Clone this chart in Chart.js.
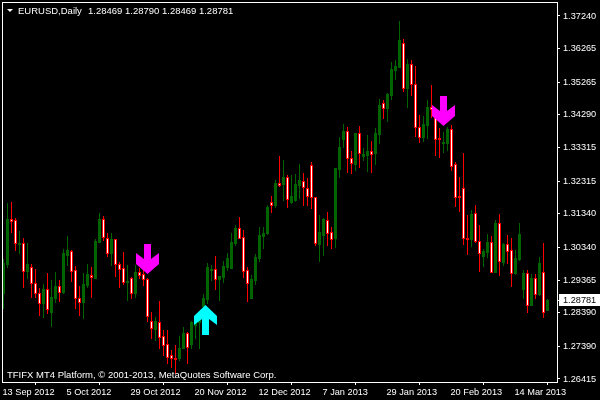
<!DOCTYPE html>
<html>
<head>
<meta charset="utf-8">
<style>html,body{margin:0;padding:0;background:#000}canvas{display:block}</style>
<script src="https://cdn.jsdelivr.net/npm/chart.js@4"></script>
</head>
<body>
<canvas id="c" width="600" height="400"></canvas>
<script>
const symbolLabel = "EURUSD,Daily";
const footerText = "TFIFX MT4 Platform, \u00A9 2001-2013, MetaQuotes Software Corp.";
const dateTickIndex = [0,16,32,48,64,80,96,112,128];
const dateTickLabels = ["13 Sep 2012","5 Oct 2012","29 Oct 2012","20 Nov 2012","12 Dec 2012","7 Jan 2013","29 Jan 2013","20 Feb 2013","14 Mar 2013"];
const priceTicks = [1.37240,1.36265,1.35265,1.34290,1.33315,1.32315,1.31340,1.30340,1.29365,1.28390,1.27390,1.26415];
const opens = [1.2898,1.2985,1.3119,1.3116,1.3044,1.3047,1.2964,1.2976,1.2928,1.2898,
1.2868,1.2910,1.2842,1.2883,1.2919,1.2901,1.3012,1.3024,1.2967,1.2883,
1.2871,1.2922,1.2952,1.2943,1.3050,1.3119,1.3062,1.3018,1.3059,1.2985,
1.2973,1.2931,1.2943,1.2898,1.2961,1.2955,1.2940,1.2815,1.2791,1.2812,
1.2770,1.2746,1.2713,1.2704,1.2704,1.2734,1.2779,1.2746,1.2803,1.2812,
1.2860,1.2880,1.2967,1.2970,1.2940,1.2946,1.2976,1.2973,1.3047,1.3092,
1.3065,1.2967,1.2883,1.2937,1.3003,1.3068,1.3077,1.3170,1.3161,1.3226,
1.3223,1.3244,1.3170,1.3176,1.3220,1.3232,1.3211,1.3280,1.3185,1.3044,
1.3071,1.3116,1.3080,1.3062,1.3268,1.3358,1.3381,1.3301,1.3283,1.3375,
1.3307,1.3310,1.3322,1.3316,1.3372,1.3465,1.3450,1.3489,1.3563,1.3572,
1.3644,1.3510,1.3581,1.3522,1.3393,1.3363,1.3399,1.3453,1.3444,1.3360,
1.3346,1.3346,1.3387,1.3283,1.3188,1.3211,1.3062,1.3059,1.3137,1.3053,
1.3009,1.3021,1.3050,1.2961,1.3107,1.2991,1.3044,1.3027,1.2958,1.3000,
1.2910,1.2958,1.2862,1.2943,1.2895,1.2961,1.28469];
const highs = [1.3000,1.3167,1.3170,1.3122,1.3083,1.3062,1.3047,1.2985,1.2970,1.2913,
1.2925,1.2958,1.2937,1.2961,1.2937,1.3029,1.3068,1.3027,1.2979,1.2919,
1.2958,1.2985,1.2976,1.3059,1.3137,1.3128,1.3077,1.3077,1.3059,1.2991,
1.3021,1.2982,1.2946,1.2982,1.2973,1.2967,1.2943,1.2842,1.2827,1.2874,
1.2788,1.2788,1.2728,1.2743,1.2770,1.2797,1.2782,1.2815,1.2830,1.2845,
1.2895,1.2988,1.2982,1.3009,1.2949,1.2994,1.3018,1.3077,1.3101,1.3125,
1.3086,1.2976,1.2952,1.3015,1.3095,1.3095,1.3161,1.3188,1.3235,1.3307,
1.3295,1.3250,1.3250,1.3253,1.3283,1.3256,1.3241,1.3289,1.3185,1.3131,
1.3122,1.3140,1.3095,1.3271,1.3363,1.3402,1.3393,1.3322,1.3375,1.3396,
1.3331,1.3369,1.3352,1.3390,1.3477,1.3474,1.3495,1.3587,1.3593,1.3709,
1.3656,1.3596,1.3593,1.3575,1.3429,1.3426,1.3474,1.3519,1.3447,1.3390,
1.3378,1.3393,1.3399,1.3289,1.3244,1.3316,1.3131,1.3146,1.3161,1.3101,
1.3029,1.3074,1.3068,1.3116,1.3134,1.3047,1.3071,1.3062,1.3027,1.3107,
1.2967,1.2967,1.2955,1.2955,1.3006,1.3047,1.28790];
const lows = [1.2854,1.2976,1.3080,1.3027,1.3018,1.2916,1.2943,1.2886,1.2886,1.2833,
1.2827,1.2839,1.2800,1.2871,1.2874,1.2898,1.2982,1.2934,1.2854,1.2833,
1.2824,1.2916,1.2886,1.2943,1.3050,1.3056,1.3009,1.2982,1.2949,1.2916,
1.2925,1.2877,1.2883,1.2886,1.2943,1.2922,1.2815,1.2764,1.2758,1.2734,
1.2713,1.2690,1.2678,1.2660,1.2698,1.2734,1.2690,1.2734,1.2764,1.2734,
1.2839,1.2868,1.2937,1.2910,1.2877,1.2931,1.2967,1.2973,1.3041,1.3062,
1.2946,1.2874,1.2883,1.2925,1.2994,1.3032,1.3074,1.3140,1.3155,1.3217,
1.3176,1.3155,1.3167,1.3173,1.3182,1.3161,1.3161,1.3152,1.3041,1.2994,
1.3012,1.3041,1.3032,1.3035,1.3244,1.3334,1.3259,1.3256,1.3265,1.3274,
1.3295,1.3262,1.3259,1.3283,1.3346,1.3420,1.3411,1.3477,1.3536,1.3572,
1.3501,1.3453,1.3489,1.3366,1.3349,1.3352,1.3360,1.3423,1.3310,1.3304,
1.3319,1.3325,1.3265,1.3158,1.3143,1.3044,1.3015,1.3038,1.3050,1.2964,
1.2979,1.3006,1.2961,1.2961,1.2952,1.2982,1.2988,1.2919,1.2955,1.2997,
1.2883,1.2842,1.2862,1.2883,1.2892,1.2827,1.28469];
const closes = [1.2988,1.3119,1.3113,1.3047,1.3047,1.2964,1.2985,1.2928,1.2898,1.2868,
1.2910,1.2851,1.2886,1.2919,1.2901,1.3018,1.3027,1.2964,1.2883,1.2871,
1.2925,1.2955,1.2946,1.3053,1.3119,1.3065,1.3018,1.3059,1.2985,1.2970,
1.2931,1.2934,1.2898,1.2961,1.2952,1.2940,1.2830,1.2794,1.2815,1.2767,
1.2743,1.2707,1.2704,1.2701,1.2734,1.2779,1.2737,1.2812,1.2821,1.2839,
1.2883,1.2976,1.2970,1.2940,1.2949,1.2979,1.3003,1.3050,1.3092,1.3062,
1.2964,1.2928,1.2940,1.3006,1.3071,1.3077,1.3155,1.3161,1.3226,1.3220,
1.3244,1.3179,1.3188,1.3223,1.3235,1.3214,1.3188,1.3185,1.3047,1.3080,
1.3119,1.3077,1.3059,1.3271,1.3334,1.3381,1.3301,1.3286,1.3375,1.3316,
1.3313,1.3322,1.3313,1.3375,1.3459,1.3450,1.3492,1.3566,1.3575,1.3653,
1.3510,1.3581,1.3522,1.3393,1.3363,1.3402,1.3453,1.3447,1.3358,1.3358,
1.3349,1.3387,1.3277,1.3185,1.3185,1.3062,1.3059,1.3134,1.3053,1.3018,
1.3024,1.3050,1.2961,1.3107,1.2994,1.3044,1.3024,1.2958,1.3003,1.3074,
1.2958,1.2862,1.2943,1.2895,1.2988,1.2842,1.28781];
const sellArrowIndex = [36,110];
const sellArrowPrice = [1.29993,1.34407];
const buyArrowIndex = [50.5];
const buyArrowPrice = [1.28174];

const FONT = '"Liberation Sans", Arial, sans-serif';
const FS = 9.5;
const TICK_FS = 9.2;
const GREEN = '#006400', RED = '#ff0000';

function arrowImage(color, pts){
  const cv = document.createElement('canvas'); cv.width = 23; cv.height = 30;
  const g = cv.getContext('2d'); g.fillStyle = color; g.beginPath();
  pts.forEach((p,i)=> i ? g.lineTo(p[0],p[1]) : g.moveTo(p[0],p[1]));
  g.closePath(); g.fill(); return cv;
}
const downArrow = arrowImage('#ff00ff',[[8,0],[15,0],[15,15],[23,9],[23,20],[11.5,30],[0,20],[0,9],[8,15]]);
const upArrow = arrowImage('#00ffff',[[11.5,0],[23,11],[23,20],[15,14],[15,30],[8,30],[8,14],[0,20],[0,11]]);

const idx = opens.map((_,i)=>i);
const bull = idx.filter(i=>closes[i]>=opens[i]);
const bear = idx.filter(i=>closes[i]<opens[i]);
const wick = ids => ids.map(i=>({x:i,y:[lows[i],highs[i]]}));
const body = ids => ids.map(i=>({x:i,y:[opens[i],closes[i]]}));
const noOverhang = s => { s.paddingLeft=0; s.paddingRight=0; s.paddingTop=0; s.paddingBottom=0; };

const pixelSnap = {
  id:'pixelSnap',
  beforeDatasetsDraw(chart){
    chart.data.datasets.forEach((ds,n)=>{
      chart.getDatasetMeta(n).data.forEach(el=>{
        if(ds.type==='scatter'){ el.y=Math.round(el.y); el.x=Math.round(el.x*2)/2; return; }
        const t=Math.round(Math.min(el.y,el.base)), b=Math.round(Math.max(el.y,el.base))+1;
        el.y=t; el.base=b;
      });
    });
  }
};
const furniture = {
  id:'furniture',
  beforeDraw(chart){
    const c=chart.ctx; c.save(); c.fillStyle='#000'; c.fillRect(0,0,600,400); c.restore();
  },
  afterDraw(chart){
    const c=chart.ctx, a=chart.chartArea, ys=chart.scales.y;
    c.save();
    c.strokeStyle='#fff'; c.lineWidth=1;
    c.strokeRect(a.left+.5,a.top+.5,a.right-a.left,a.bottom-a.top);
    c.font=FS+'px '+FONT; c.textBaseline='alphabetic'; c.textAlign='left'; c.fillStyle='#fff';
    c.beginPath(); c.moveTo(7,9); c.lineTo(13,9); c.lineTo(10,12); c.closePath(); c.fill();
    const n=opens.length-1, f=v=>v.toFixed(5);
    c.fillText(symbolLabel,18,14);
    c.fillText([opens[n],highs[n],lows[n],closes[n]].map(f).join(' '),88,14);
    c.fillText(footerText,7,378);
    const py=Math.round(ys.getPixelForValue(closes[n]));
    c.fillRect(a.right+1,py,2,1);
    c.fillRect(559,py-6,41,12);
    c.fillStyle='#000'; c.textBaseline='middle';
    c.font=TICK_FS+'px '+FONT;
    c.fillText(f(closes[n]),563,py+.5);
    c.restore();
  }
};

new Chart(document.getElementById('c'),{
  type:'bar',
  data:{datasets:[
    {type:'scatter',data:sellArrowIndex.map((x,i)=>({x,y:sellArrowPrice[i]})),pointStyle:downArrow,order:0,clip:false},
    {type:'scatter',data:buyArrowIndex.map((x,i)=>({x,y:buyArrowPrice[i]})),pointStyle:upArrow,order:0,clip:false},
    {data:body(bear),backgroundColor:'#fff',borderColor:RED,borderWidth:1,borderSkipped:false,barThickness:3,grouped:false,inflateAmount:0,order:1},
    {data:body(bull),backgroundColor:GREEN,borderWidth:0,barThickness:3,grouped:false,inflateAmount:0,order:1},
    {data:wick(bear),backgroundColor:RED,borderWidth:0,barThickness:1,grouped:false,inflateAmount:0,order:2},
    {data:wick(bull),backgroundColor:GREEN,borderWidth:0,barThickness:1,grouped:false,inflateAmount:0,order:2}
  ]},
  options:{
    responsive:false,animation:false,events:[],
    layout:{autoPadding:false,padding:{left:2,top:2,right:0,bottom:0}},
    plugins:{legend:{display:false},tooltip:{enabled:false},title:{display:false}},
    scales:{
      x:{type:'linear',offset:false,min:-0.375,max:138.375,
        grid:{drawOnChartArea:false,drawTicks:true,tickColor:'#fff',tickLength:3,tickWidth:1},
        border:{display:false},
        afterBuildTicks(s){ s.ticks=dateTickIndex.map(v=>({value:v})); },
        afterFit(s){ s.height=18; noOverhang(s); },
        ticks:{color:'#fff',font:{family:FONT,size:TICK_FS},align:'start',maxRotation:0,autoSkip:false,padding:2,labelOffset:-1,
          callback(v){ return dateTickLabels[dateTickIndex.indexOf(v)]; }}
      },
      y:{type:'linear',position:'right',min:1.26325,max:1.37657,
        grid:{drawOnChartArea:false,drawTicks:true,tickColor:'#fff',tickLength:3,tickWidth:1},
        border:{display:false},
        afterBuildTicks(s){ s.ticks=priceTicks.map(v=>({value:v})); },
        afterFit(s){ s.width=43; noOverhang(s); },
        ticks:{color:'#fff',font:{family:FONT,size:TICK_FS},padding:3,autoSkip:false,
          callback(v){ return v.toFixed(5); }}
      }
    }
  },
  plugins:[pixelSnap,furniture]
});
</script>
</body>
</html>
